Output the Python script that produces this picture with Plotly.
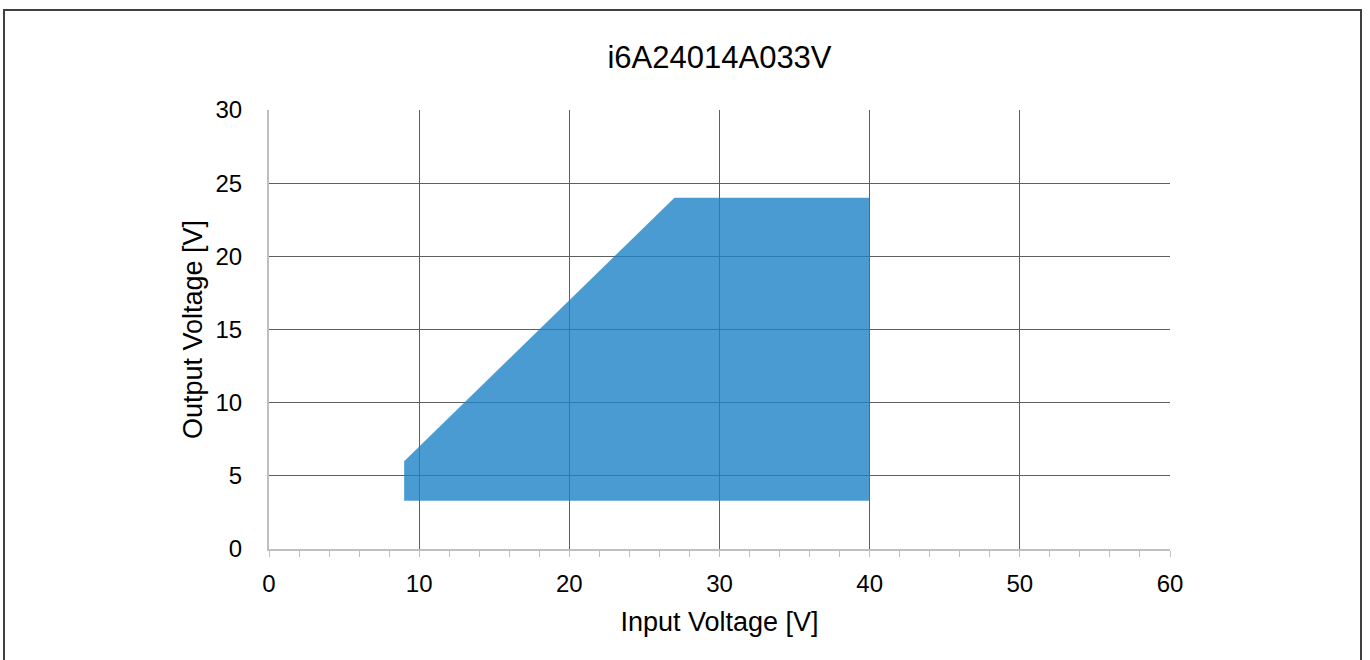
import plotly.graph_objects as go

# Operating area polygon (Input Voltage [V], Output Voltage [V])
vin = [9, 9, 27, 40, 40, 9]
vout = [3.3, 6, 24, 24, 3.3, 3.3]

title_text = "i6A24014A033V"
x_title = "Input Voltage [V]"
y_title = "Output Voltage [V]"
x_ticks = [0, 10, 20, 30, 40, 50, 60]
y_ticks = [0, 5, 10, 15, 20, 25, 30]

W, H = 1370, 660
L, T = 269, 110
pw, ph = 901, 439
R, B = W - L - pw, H - T - ph

fig = go.Figure()
fig.add_trace(go.Scatter(
    x=vin, y=vout, mode="lines", fill="toself",
    fillcolor="rgba(30,130,200,0.8)", line=dict(width=0),
    hoverinfo="skip", showlegend=False,
))

font = "Liberation Sans, Arial, sans-serif"
fig.update_layout(
    width=W, height=H,
    margin=dict(l=L, r=R, t=T, b=B),
    paper_bgcolor="white", plot_bgcolor="white",
    font=dict(family=font, color="#000000", size=24),
    title=dict(text=title_text, x=(L + pw / 2) / W, xanchor="center",
               y=1 - 57 / H, yanchor="middle", font=dict(size=31, family=font)),
    xaxis=dict(
        range=[0, 60], tickvals=x_ticks, ticktext=[str(v) for v in x_ticks],
        showgrid=True, gridcolor="#5f5f5f", gridwidth=1,
        showline=True, linecolor="#bfbfbf", linewidth=2,
        ticks="outside", ticklen=6, tickcolor="#bfbfbf", tickwidth=1,
        minor=dict(dtick=2, ticks="outside", ticklen=6, tickcolor="#bfbfbf", showgrid=False),
        zeroline=False, fixedrange=True, ticklabelstandoff=6,
        title=dict(text=x_title, standoff=16, font=dict(size=27)),
        tickfont=dict(size=24),
    ),
    yaxis=dict(
        range=[0, 30], tickvals=y_ticks, ticktext=[str(v) for v in y_ticks],
        showgrid=True, gridcolor="#5f5f5f", gridwidth=1,
        showline=True, linecolor="#bfbfbf", linewidth=2,
        ticks="", zeroline=False, fixedrange=True, ticklabelstandoff=20,
        title=dict(text=y_title, standoff=5, font=dict(size=27)),
        tickfont=dict(size=24),
    ),
)

# outer chart frame
fig.add_shape(type="rect", xref="paper", yref="paper",
              x0=(4 - L) / pw, x1=(1361 - L) / pw,
              y0=(H - T - 720) / ph, y1=(H - T - 11) / ph,
              line=dict(color="#404040", width=2), fillcolor="rgba(0,0,0,0)",
              layer="above")

fig.write_html("out.html", config={"displayModeBar": False},
               post_script="document.body.style.margin='0px';")
